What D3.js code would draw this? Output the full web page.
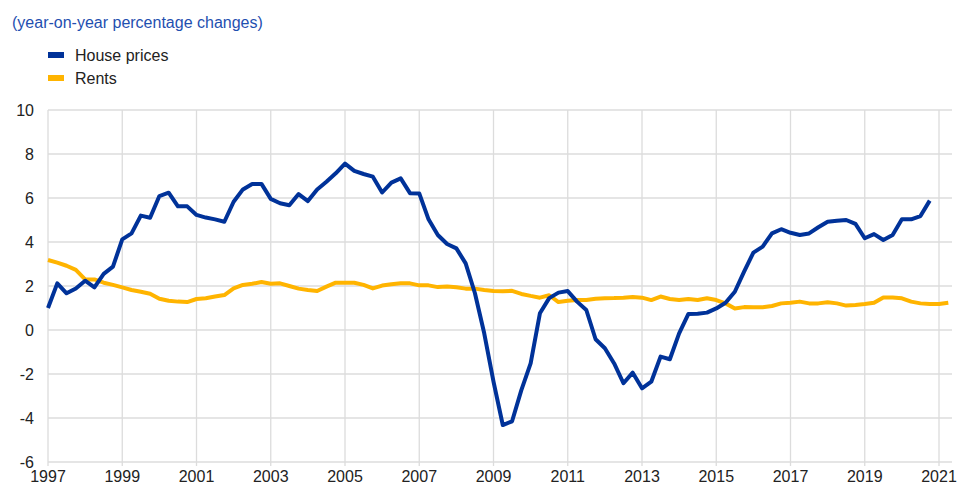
<!DOCTYPE html>
<html>
<head>
<meta charset="utf-8">
<script src="https://cdn.jsdelivr.net/npm/d3@7"></script>
<style>
  body { margin: 0; background: #fff; }
  text { font-family: "Liberation Sans", Arial, sans-serif; }
</style>
</head>
<body>
<div id="chart"></div>
<script>
// quarterly data, first point = 1997 Q1
var startYear = 1997

var housePrices = [
  1.0, 2.12, 1.67, 1.89, 2.24, 1.94, 2.55, 2.88, 4.12, 4.39, 5.2, 5.1,
  6.09, 6.24, 5.62, 5.62, 5.23, 5.11, 5.03, 4.92, 5.83, 6.39, 6.64, 6.64,
  5.96, 5.76, 5.67, 6.18, 5.86, 6.39, 6.74, 7.12, 7.56, 7.23, 7.09, 6.97,
  6.25, 6.7, 6.89, 6.22, 6.21, 5.03, 4.32, 3.91, 3.71, 3.03, 1.67, -0.15,
  -2.35, -4.32, -4.15, -2.73, -1.52, 0.76, 1.45, 1.7, 1.77, 1.29, 0.91, -0.42,
  -0.83, -1.52, -2.42, -1.94, -2.65, -2.35, -1.21, -1.33, -0.15, 0.73, 0.74, 0.79,
  0.98, 1.24, 1.74, 2.65, 3.52, 3.79, 4.39, 4.58, 4.42, 4.32, 4.39, 4.67,
  4.92, 4.97, 5.0, 4.82, 4.17, 4.36, 4.09, 4.32, 5.03, 5.03, 5.18, 5.88
]

var rents = [
  3.18, 3.06, 2.92, 2.73, 2.3, 2.3, 2.15, 2.05, 1.94, 1.82, 1.74, 1.65,
  1.42, 1.33, 1.29, 1.27, 1.41, 1.44, 1.52, 1.59, 1.89, 2.05, 2.1, 2.18,
  2.1, 2.12, 2.0, 1.88, 1.82, 1.77, 1.97, 2.15, 2.15, 2.15, 2.05, 1.89,
  2.02, 2.08, 2.12, 2.12, 2.03, 2.03, 1.95, 1.98, 1.94, 1.88, 1.88, 1.82,
  1.77, 1.76, 1.78, 1.64, 1.55, 1.47, 1.58, 1.27, 1.33, 1.36, 1.36, 1.42,
  1.44, 1.45, 1.47, 1.5, 1.47, 1.36, 1.52, 1.41, 1.36, 1.41, 1.36, 1.44,
  1.36, 1.21, 0.98, 1.04, 1.03, 1.03, 1.09, 1.21, 1.24, 1.29, 1.21, 1.21,
  1.26, 1.21, 1.11, 1.14, 1.18, 1.24, 1.48, 1.48, 1.44, 1.29, 1.21, 1.18,
  1.18, 1.24
]

var yTicks = [-6, -4, -2, 0, 2, 4, 6, 8, 10]
var xTicks = [1997, 1999, 2001, 2003, 2005, 2007, 2009, 2011, 2013, 2015, 2017, 2019, 2021]

var seriesNames = ["House prices", "Rents"]
var seriesColors = ["#003299", "#ffb400"]

var width = 957
var height = 487
var margin = {top: 110, right: 5, bottom: 25, left: 48}

var svg = d3.select("#chart")
  .append("svg")
  .attr("width", width)
  .attr("height", height)

var x = d3.scaleLinear()
  .domain([1997, 2021.35])
  .range([margin.left, width - margin.right])

var y = d3.scaleLinear()
  .domain([-6, 10])
  .range([height - margin.bottom, margin.top])

// title
svg.append("text")
  .attr("x", 12)
  .attr("y", 28)
  .attr("fill", "#1f4fb0")
  .style("font-size", "16px")
  .text("(year-on-year percentage changes)")

// legend
seriesNames.forEach(function(name, i) {
  var ly = 55 + i * 23
  svg.append("rect")
    .attr("x", 48).attr("y", ly - 3)
    .attr("width", 16).attr("height", 6)
    .attr("fill", seriesColors[i])
  svg.append("text")
    .attr("x", 75).attr("y", ly)
    .attr("dy", "0.35em")
    .attr("fill", "#222")
    .style("font-size", "16px")
    .text(name)
})

// gridlines
svg.append("g")
  .selectAll("line")
  .data(yTicks)
  .enter()
  .append("line")
  .attr("x1", x.range()[0])
  .attr("x2", x.range()[1])
  .attr("y1", function(d) { return y(d) })
  .attr("y2", function(d) { return y(d) })
  .attr("stroke", "#dcdcdc")
  .attr("stroke-width", 1.3)

svg.append("g")
  .selectAll("line")
  .data(xTicks)
  .enter()
  .append("line")
  .attr("x1", function(d) { return x(d) })
  .attr("x2", function(d) { return x(d) })
  .attr("y1", y(10))
  .attr("y2", y(-6) + 4)
  .attr("stroke", "#dcdcdc")
  .attr("stroke-width", 1.3)

// axis labels
svg.append("g")
  .selectAll("text")
  .data(yTicks)
  .enter()
  .append("text")
  .attr("x", 34)
  .attr("y", function(d) { return y(d) })
  .attr("dy", "0.35em")
  .attr("text-anchor", "end")
  .attr("fill", "#222")
  .style("font-size", "16px")
  .text(function(d) { return d })

svg.append("g")
  .selectAll("text")
  .data(xTicks)
  .enter()
  .append("text")
  .attr("x", function(d) { return x(d) })
  .attr("y", 482)
  .attr("text-anchor", "middle")
  .attr("fill", "#222")
  .style("font-size", "16px")
  .text(function(d) { return d })

// lines
var line = d3.line()
  .x(function(d, i) { return x(startYear + i / 4) })
  .y(function(d) { return y(d) })

svg.append("path")
  .datum(rents)
  .attr("d", line)
  .attr("fill", "none")
  .attr("stroke", seriesColors[1])
  .attr("stroke-width", 4)
  .attr("stroke-linejoin", "round")

svg.append("path")
  .datum(housePrices)
  .attr("d", line)
  .attr("fill", "none")
  .attr("stroke", seriesColors[0])
  .attr("stroke-width", 4)
  .attr("stroke-linejoin", "round")
</script>
</body>
</html>
